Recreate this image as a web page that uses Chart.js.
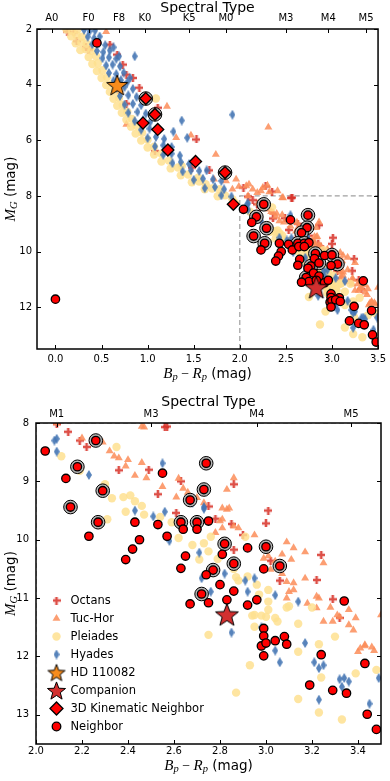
<!DOCTYPE html>
<html>
<head>
<meta charset="utf-8">
<script src="https://cdn.jsdelivr.net/npm/chart.js@4.4.1/dist/chart.umd.min.js"></script>
<style>
  body { margin: 0; background: #fff; width: 390px; height: 781px; overflow: hidden; }
  .box { position: relative; width: 390px; }
  #top { height: 385px; }
  #bot { height: 396px; }
</style>
</head>
<body>
<div class="box" id="top"><canvas id="cmdFull"></canvas></div>
<div class="box" id="bot"><canvas id="cmdZoom"></canvas></div>
<script>
// ---- data (Bp-Rp, M_G) ----
const octans = [
  [0.13,2.09],[0.20,2.12],[0.23,2.44],[0.33,2.66],[0.36,2.74],[0.59,2.56],[0.67,2.92],[0.73,3.28],
  [0.77,3.64],[0.84,3.76],[0.91,4.11],[0.68,4.18],[0.77,4.68],[1.11,4.83],[1.08,6.39],[1.53,5.97],
  [1.48,6.98],[1.67,7.08],[2.04,7.70],[2.28,7.66],[2.35,7.84],[2.57,8.06],
  [2.09,8.02],[2.14,8.15],[2.19,8.30],[2.22,8.41],[2.36,8.81],[2.49,8.80],[2.56,8.07],[2.53,9.22],
  [2.63,9.00],[2.86,9.05],[2.75,9.43],[3.01,9.50],[3.00,9.72],[2.85,9.73],[2.78,9.64],[2.61,9.54],
  [3.24,10.26],[2.90,9.92],[3.22,10.69],[3.29,11.02],[3.32,11.34],[3.06,10.70],[2.86,10.17],[3.02,10.36]
];
const tucHor = [
  [0.55,2.10],[1.21,4.78],[0.77,5.43],[2.31,5.53],[1.74,6.51],[1.31,5.91],[1.47,5.82],[1.72,7.40],
  [1.85,7.46],[1.96,7.40],[1.99,7.66],[2.07,7.64],[2.14,7.76],[2.25,7.70],[2.32,7.86],[1.92,7.76],
  [2.10,7.58],[2.23,7.82],[2.30,7.62],[2.41,7.82],[2.19,7.88],[2.46,8.06],
  [2.09,8.00],[2.47,8.07],[2.20,8.26],[2.29,8.33],[2.32,8.48],[2.34,8.57],[2.36,8.60],[2.40,8.63],
  [2.46,8.68],[2.39,8.74],[2.43,8.90],[2.48,8.94],[2.55,9.09],[2.62,8.95],[2.61,9.27],[2.64,9.12],
  [2.66,9.19],[2.70,9.28],[2.73,9.37],[2.81,9.46],[2.84,9.46],[2.86,8.94],[2.83,9.14],[2.80,9.68],
  [2.83,9.48],[2.81,9.65],[2.86,9.77],[2.88,9.80],[2.78,9.88],[2.81,9.80],[3.09,10.04],[3.12,10.14],
  [3.17,10.21],[2.95,9.92],[3.25,10.40],[3.01,10.28],[3.04,10.37],[3.02,10.51],[3.07,10.58],[3.12,10.74],
  [3.17,10.66],[3.09,10.72],[3.12,10.86],[3.22,10.97],[3.28,11.16],[3.31,11.29],[3.36,11.20],[3.39,11.34],
  [3.36,11.46],[3.38,11.55],[3.50,11.29],[3.41,11.86],[3.43,11.82],[3.46,11.84],[3.47,11.90],[3.22,11.17],
  [2.99,10.32],[3.11,10.34],[3.10,10.89],[3.09,11.00],[3.18,11.09],[3.23,11.00],[3.25,11.40],[3.29,11.40],
  [3.32,11.32],[3.43,11.80],[3.40,11.92],[3.07,10.25]
];
const pleiades = [
  [0.12,2.02],[0.18,2.06],[0.24,2.01],[0.17,2.26],[0.23,2.23],[0.29,2.28],[0.22,2.51],[0.28,2.48],
  [0.34,2.53],[0.27,2.76],[0.33,2.73],[0.39,2.78],[0.36,3.01],[0.44,2.98],[0.40,3.26],[0.46,3.23],
  [0.45,3.51],[0.51,3.48],[0.50,3.76],[0.56,3.73],[0.55,4.01],[0.61,3.98],[0.59,4.26],[0.65,4.23],
  [0.63,4.51],[0.69,4.48],[1.09,4.50],[0.67,4.76],[0.73,4.73],[0.72,5.01],[0.78,4.98],[0.77,5.26],
  [0.83,5.23],[0.82,5.51],[0.88,5.48],[0.87,5.76],[0.94,5.73],[0.93,6.01],[1.00,5.98],[1.00,6.26],
  [1.07,6.23],[1.07,6.51],[1.15,6.48],[1.15,6.76],[1.23,6.73],[1.25,7.01],[1.33,6.98],[1.37,6.92],
  [1.36,7.26],[1.44,7.23],[1.55,7.34],[1.48,7.51],[1.56,7.48],[1.63,7.58],[1.62,7.76],[1.70,7.73],
  [1.78,7.76],[1.76,8.01],[1.84,7.98],[1.92,8.12],[1.95,8.25],
  [2.11,8.57],[2.35,8.41],[2.19,8.82],[2.30,9.05],[2.33,9.29],[2.38,9.27],[2.41,9.24],[2.43,9.34],
  [2.46,9.42],[2.39,9.52],[2.47,9.57],[2.31,9.65],[2.54,9.61],[2.62,9.97],[2.68,10.09],[2.73,10.06],
  [2.75,10.20],[2.71,10.34],[2.79,10.33],[2.91,9.95],[2.86,10.50],[2.92,10.63],[2.88,10.70],[2.96,10.77],
  [3.01,10.86],[2.97,10.94],[3.01,11.06],[3.09,11.16],[3.01,11.20],[3.00,11.32],[3.04,11.34],[2.95,11.29],
  [2.95,11.49],[3.14,11.44],[3.20,11.16],[2.75,11.63],[3.30,11.66],[2.87,10.64],[2.94,11.30],[2.98,11.30],
  [3.05,11.40],[3.14,11.92],[3.23,11.79],[3.24,12.36],[2.93,12.15],[3.39,12.29],[3.48,12.23],[2.87,12.62],
  [3.14,12.73],[3.23,12.96],[3.33,13.08],[3.10,11.14],[2.76,9.95],[2.59,9.70]
];
const hyades = [
  [0.31,2.03],[0.37,2.08],[0.43,2.05],[0.35,2.28],[0.42,2.33],[0.48,2.27],[0.40,2.55],[0.47,2.52],
  [0.54,2.58],[0.45,2.79],[0.52,2.83],[0.59,2.77],[0.63,2.66],[0.51,3.05],[0.58,3.02],[0.66,3.07],
  [0.69,2.98],[0.86,2.98],[0.55,3.31],[0.62,3.28],[0.70,3.34],[0.58,3.58],[0.66,3.62],[0.74,3.57],
  [0.81,3.76],[0.63,3.86],[0.71,3.84],[0.78,3.91],[0.66,4.12],[0.75,4.08],[0.84,4.15],[0.70,4.41],
  [0.79,4.38],[0.88,4.44],[0.75,4.72],[0.84,4.69],[0.93,4.74],[0.79,5.01],[0.89,4.98],[0.98,5.04],
  [0.86,5.31],[0.95,5.27],[1.03,5.33],[0.93,5.62],[1.02,5.58],[1.10,5.64],[1.37,5.29],[1.92,5.08],
  [1.28,5.69],[1.43,5.91],[1.00,5.92],[1.09,5.88],[1.18,5.95],[1.08,6.22],[1.17,6.18],[1.26,6.24],
  [1.17,6.52],[1.26,6.48],[1.35,6.55],[1.27,6.82],[1.36,6.78],[1.45,6.85],[1.38,7.12],[1.47,7.08],
  [1.56,7.10],[1.64,7.08],[1.50,7.42],[1.60,7.38],[1.71,7.40],[1.80,7.46],[1.62,7.72],[1.73,7.68],
  [1.83,7.76],[1.80,7.98],[1.91,8.02],[2.08,8.30],
  [2.09,8.27],[2.09,8.49],[2.23,8.89],[2.55,8.69],[2.43,9.50],[2.56,9.52],[2.51,9.60],[2.68,9.37],
  [2.73,9.47],[2.58,10.02],[2.71,10.22],[2.73,9.44],[2.72,10.66],[2.76,10.89],[2.82,10.58],[2.91,10.70],
  [2.95,10.66],[2.92,10.89],[3.04,10.95],[3.14,11.06],[2.85,11.59],[2.98,11.50],[3.17,11.77],[3.04,11.90],
  [3.06,12.10],[3.21,12.10],[3.23,12.20],[3.25,12.15],[3.32,12.39],[3.34,12.37],[3.36,12.43],[3.33,12.52],
  [3.23,12.74],[3.45,12.81],[3.49,12.37]
];
const hd110082 = [[0.67,4.01]];
const companion = [[2.83,11.28]];
const kinematic3D = [[0.98,4.50],[1.08,5.07],[0.95,5.38],[1.11,5.61],[1.22,6.35],[1.52,6.76],[1.84,7.16],[1.93,8.30]];
const neighbors = [
  [0.00,11.71],[0.45,2.50],[2.04,8.48],[2.26,8.30],[2.18,8.75],[2.13,8.95],[2.29,9.16],[2.15,9.44],
  [2.27,9.70],[2.43,9.70],[2.53,9.74],[2.55,8.86],[2.74,8.69],[2.73,9.14],[2.67,9.32],[2.63,9.70],
  [2.70,9.70],[2.75,9.68],[2.23,9.94],[2.45,10.00],[2.42,10.16],[2.39,10.34],[2.57,9.94],[2.64,9.82],
  [2.70,9.82],[2.82,10.07],[2.92,10.14],[3.00,10.12],[2.65,10.28],[2.81,10.25],[2.86,10.41],[3.06,10.45],
  [2.63,10.49],[2.77,10.52],[2.74,10.60],[2.99,10.50],[2.80,10.77],[2.72,10.93],[2.75,11.08],[2.86,10.88],
  [2.83,11.03],[2.67,11.10],[2.92,11.12],[2.96,11.03],[3.34,11.05],[2.99,11.52],[2.99,11.65],[3.08,11.66],
  [2.98,11.82],[3.00,11.77],[3.04,11.73],[3.09,11.79],[2.99,11.99],[3.24,11.97],[3.43,12.12],[3.19,12.49],
  [3.29,12.58],[3.35,12.63],[3.44,12.99],[3.48,13.25]
];
// neighbours that carry the grey ring
const ringed = [
  [0.98,4.50],[1.08,5.07],[1.84,7.16],[2.26,8.30],[2.18,8.75],[2.29,9.16],[2.15,9.44],[2.27,9.70],
  [2.74,8.69],[2.73,9.14],[2.67,9.32],[2.63,9.70],[2.70,9.70],[2.82,10.07],[3.00,10.12],[2.86,10.41],
  [3.06,10.45],[2.77,10.52],[2.72,10.93]
];
const zoomBox = [[2.0,13.5],[2.0,8.0],[3.5,8.0]];

// ---- ticks ----
const xTicksFull = [0, 0.5, 1, 1.5, 2, 2.5, 3, 3.5];
const xTicksZoom = [2.0, 2.2, 2.4, 2.6, 2.8, 3.0, 3.2, 3.4];
const yTicksFull = [2, 4, 6, 8, 10, 12];
const yTicksZoom = [8, 9, 10, 11, 12, 13];
const specFull = [-0.04, 0.36, 0.69, 0.97, 1.45, 1.85, 2.50, 2.96, 3.37];
const specFullLabels = ['A0', 'F0', 'F8', 'K0', 'K5', 'M0', 'M3', 'M4', 'M5'];
const specZoom = [2.09, 2.50, 2.96, 3.37];
const specZoomLabels = ['M1', 'M3', 'M4', 'M5'];

// ---- marker images ----
function starImg(r, fill) {
  const s = Math.ceil(r * 2 + 4), c = document.createElement('canvas');
  c.width = c.height = s;
  const g = c.getContext('2d');
  g.translate(s / 2, s / 2 + r * 0.1);
  g.beginPath();
  for (let i = 0; i < 10; i++) {
    const rr = i % 2 ? r * 0.42 : r, a = -Math.PI / 2 + i * Math.PI / 5;
    g.lineTo(rr * Math.cos(a), rr * Math.sin(a));
  }
  g.closePath();
  g.fillStyle = fill; g.fill();
  g.lineWidth = 1; g.strokeStyle = '#000'; g.stroke();
  return c;
}
function thinDiamond(w, h, fill) {
  const c = document.createElement('canvas');
  c.width = w; c.height = h;
  const g = c.getContext('2d');
  g.beginPath(); g.moveTo(w / 2, 0); g.lineTo(w, h / 2); g.lineTo(w / 2, h); g.lineTo(0, h / 2); g.closePath();
  g.fillStyle = fill; g.fill();
  return c;
}
function plusImg(s, t, fill) {
  const c = document.createElement('canvas');
  c.width = c.height = s;
  const g = c.getContext('2d'), a = (s - t) / 2, b = (s + t) / 2;
  g.beginPath();
  g.moveTo(a, 0); g.lineTo(b, 0); g.lineTo(b, a); g.lineTo(s, a); g.lineTo(s, b); g.lineTo(b, b);
  g.lineTo(b, s); g.lineTo(a, s); g.lineTo(a, b); g.lineTo(0, b); g.lineTo(0, a); g.lineTo(a, a);
  g.closePath(); g.fillStyle = fill; g.fill();
  return c;
}

const cOct = 'rgba(215,48,39,0.85)', cTuc = 'rgba(252,141,89,0.85)', cPle = 'rgba(254,224,144,0.85)', cHya = 'rgba(69,117,180,0.9)';
const imgPlus = plusImg(8, 2.6, cOct);
const imgHya = thinDiamond(6, 10, cHya);
const imgHD = starImg(11, '#f88c1c');
const imgComp = starImg(12, '#d22f2f');
const imgHDleg = starImg(9, '#f88c1c');
const imgCompLeg = starImg(9.5, '#d22f2f');

const pts = arr => arr.map(p => ({ x: p[0], y: p[1] }));

function makeDatasets() {
  return [
    { label: 'zoom box', type: 'line', data: pts(zoomBox), borderColor: '#a0a0a0', borderDash: [5, 3], borderWidth: 1.2, pointRadius: 0, fill: false, order: 20, clip: 0 },
    { label: 'Octans', data: pts(octans), pointStyle: imgPlus, order: 9, clip: 0 },
    { label: 'Tuc-Hor', data: pts(tucHor), pointStyle: 'triangle', pointRadius: 4.6, backgroundColor: cTuc, borderWidth: 0, order: 8, clip: 0 },
    { label: 'Pleiades', data: pts(pleiades), pointStyle: 'circle', pointRadius: 4.2, backgroundColor: cPle, borderWidth: 0, order: 7, clip: 0 },
    { label: 'Hyades', data: pts(hyades), pointStyle: imgHya, order: 6, clip: 0 },
    { label: 'ring', data: pts(ringed), pointStyle: 'circle', pointRadius: 6.8, backgroundColor: '#b4b4b4', borderColor: '#000', borderWidth: 1, order: 5, clip: 0 },
    { label: 'Neighbor', data: pts(neighbors), pointStyle: 'circle', pointRadius: 4.2, backgroundColor: '#ff0000', borderColor: '#000', borderWidth: 1.3, order: 3, clip: 0 },
    { label: '3D Kinematic Neighbor', data: pts(kinematic3D), pointStyle: 'rectRot', pointRadius: 6, backgroundColor: '#ff0000', borderColor: '#000', borderWidth: 1.3, order: 2, clip: 0 },
    { label: 'Companion', data: pts(companion), pointStyle: imgComp, order: 1, clip: 0 },
    { label: 'HD 110082', data: pts(hd110082), pointStyle: imgHD, order: 0, clip: 0 }
  ];
}

const FONT = '"DejaVu Sans", sans-serif';
const SERIF = '"Liberation Serif", "DejaVu Serif", serif';

// inward ticks + frame
const framePlugin = {
  id: 'frame',
  afterDatasetsDraw(chart) {
    const { ctx, chartArea: a, scales } = chart;
    ctx.save();
    ctx.strokeStyle = '#000';
    ctx.lineWidth = 1;
    ctx.beginPath();
    scales.x.ticks.forEach(t => { const p = Math.round(scales.x.getPixelForValue(t.value)) + 0.5; ctx.moveTo(p, a.bottom); ctx.lineTo(p, a.bottom - 4); });
    scales.x2.ticks.forEach(t => { const p = Math.round(scales.x2.getPixelForValue(t.value)) + 0.5; ctx.moveTo(p, a.top); ctx.lineTo(p, a.top + 4); });
    scales.y.ticks.forEach(t => {
      const p = Math.round(scales.y.getPixelForValue(t.value)) + 0.5;
      ctx.moveTo(a.left, p); ctx.lineTo(a.left + 4, p);
      ctx.moveTo(a.right, p); ctx.lineTo(a.right - 4, p);
    });
    ctx.stroke();
    ctx.lineWidth = 1.5;
    ctx.strokeRect(a.left, a.top, a.right - a.left, a.bottom - a.top);
    ctx.restore();
  }
};

// axis labels with math-style subscripts
function drawParts(ctx, parts, cx, cy) {
  let w = 0;
  parts.forEach(p => { ctx.font = p.f; w += ctx.measureText(p.t).width; });
  let x = cx - w / 2;
  ctx.textBaseline = 'middle';
  ctx.textAlign = 'left';
  parts.forEach(p => { ctx.font = p.f; ctx.fillText(p.t, x, cy + (p.dy || 0)); x += ctx.measureText(p.t).width; });
}
const xTitleParts = [
  { t: 'B', f: 'italic 15px ' + SERIF }, { t: 'p', f: 'italic 10.5px ' + SERIF, dy: 3.5 },
  { t: ' \u2212 ', f: '14px ' + SERIF }, { t: 'R', f: 'italic 15px ' + SERIF }, { t: 'p', f: 'italic 10.5px ' + SERIF, dy: 3.5 },
  { t: ' (mag)', f: '13.5px ' + FONT }
];
const yTitleParts = [
  { t: 'M', f: 'italic 15px ' + SERIF }, { t: 'G', f: 'italic 10.5px ' + SERIF, dy: 3.5 },
  { t: ' (mag)', f: '13.5px ' + FONT }
];
const titlePlugin = {
  id: 'mathTitles',
  afterDraw(chart, args, opts) {
    const { ctx, chartArea: a } = chart;
    ctx.save();
    ctx.fillStyle = '#000';
    drawParts(ctx, xTitleParts, (a.left + a.right) / 2, opts.xTitleY);
    ctx.translate(11, (a.top + a.bottom) / 2);
    ctx.rotate(-Math.PI / 2);
    drawParts(ctx, yTitleParts, 0, 0);
    ctx.restore();
  }
};

// legend drawn inside the zoom panel
const legendItems = [
  { text: 'Octans', style: imgPlus },
  { text: 'Tuc-Hor', style: 'triangle', r: 4.6, fill: cTuc, bw: 0 },
  { text: 'Pleiades', style: 'circle', r: 4.2, fill: cPle, bw: 0 },
  { text: 'Hyades', style: imgHya },
  { text: 'HD 110082', style: imgHDleg },
  { text: 'Companion', style: imgCompLeg },
  { text: '3D Kinematic Neighbor', style: 'rectRot', r: 6.5, fill: '#ff0000', bw: 1.3 },
  { text: 'Neighbor', style: 'circle', r: 4.3, fill: '#ff0000', bw: 1.3 }
];
const legendPlugin = {
  id: 'insideLegend',
  afterDraw(chart) {
    const { ctx } = chart;
    const x0 = 56.5, y0 = 215.5, dy = 18;
    ctx.save();
    legendItems.forEach((it, i) => {
      const y = y0 + i * dy;
      ctx.fillStyle = it.fill || '#000';
      ctx.strokeStyle = '#000';
      ctx.lineWidth = it.bw || 0;
      Chart.helpers.drawPoint(ctx, { pointStyle: it.style, radius: it.r || 4, borderWidth: it.bw || 0, rotation: 0 }, x0, y);
      ctx.fillStyle = '#000';
      ctx.font = '11.5px ' + FONT;
      ctx.textBaseline = 'middle';
      ctx.textAlign = 'left';
      ctx.fillText(it.text, 70.5, y + 0.5);
    });
    ctx.restore();
  }
};

function makeChart(id, o) {
  const tickFont = { family: FONT, size: 10 };
  const noGrid = { display: false, drawTicks: false };
  return new Chart(document.getElementById(id), {
    type: 'scatter',
    data: { datasets: makeDatasets() },
    options: {
      responsive: true,
      maintainAspectRatio: false,
      animation: false,
      devicePixelRatio: 1,
      events: [],
      layout: { padding: { left: 0, right: 9, top: 0, bottom: 0 } },
      plugins: {
        legend: { display: false },
        tooltip: { enabled: false },
        mathTitles: { xTitleY: o.xTitleY }
      },
      scales: {
        x: {
          type: 'linear', position: 'bottom', min: o.xMin, max: 3.5,
          afterBuildTicks: s => { s.ticks = o.xTicks.map(v => ({ value: v })); },
          afterFit: s => { s.height = o.bottomH; },
          ticks: { callback: v => Number(v).toFixed(1), font: tickFont, color: '#000', padding: o.xPad, autoSkip: false, maxRotation: 0 },
          grid: noGrid, border: { display: false }
        },
        x2: {
          type: 'linear', position: 'top', min: o.xMin, max: 3.5,
          afterBuildTicks: s => { s.ticks = o.spec.map(v => ({ value: v })); },
          afterFit: s => { s.height = o.topH; },
          ticks: { callback: (v, i) => o.specLabels[i], font: tickFont, color: '#000', padding: o.specPad, autoSkip: false, maxRotation: 0 },
          title: { display: true, text: 'Spectral Type', font: { family: FONT, size: 14 }, color: '#000', padding: { top: o.titlePad, bottom: 0 } },
          grid: noGrid, border: { display: false }
        },
        y: {
          type: 'linear', position: 'left', min: o.yMin, max: 13.5, reverse: true,
          afterBuildTicks: s => { s.ticks = o.yTicks.map(v => ({ value: v })); },
          afterFit: s => { s.width = o.leftW; },
          ticks: { font: tickFont, color: '#000', padding: o.yPad },
          grid: noGrid, border: { display: false }
        }
      }
    },
    plugins: o.legend ? [framePlugin, titlePlugin, legendPlugin] : [framePlugin, titlePlugin]
  });
}

makeChart('cmdFull', {
  xMin: -0.2, yMin: 2, xTicks: xTicksFull, yTicks: yTicksFull, spec: specFull, specLabels: specFullLabels,
  topH: 29, bottomH: 36, leftW: 37, xPad: 4, yPad: 5, specPad: 5, titlePad: 0, xTitleY: 374, legend: false
});
makeChart('cmdZoom', {
  xMin: 2.0, yMin: 8, xTicks: xTicksZoom, yTicks: yTicksZoom, spec: specZoom, specLabels: specZoomLabels,
  topH: 38, bottomH: 37, leftW: 36, xPad: 1, yPad: 7, specPad: 2.5, titlePad: 8.5, xTitleY: 381, legend: true
});
</script>
</body>
</html>
